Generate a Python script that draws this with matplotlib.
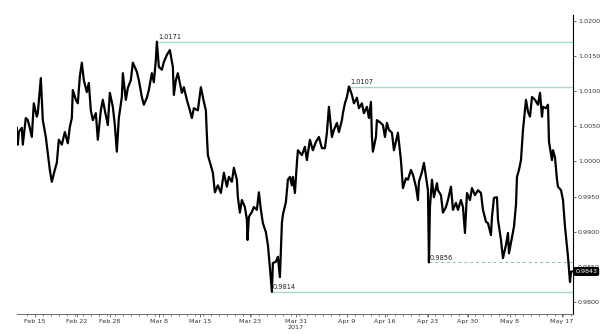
import matplotlib
matplotlib.use("Agg")
import matplotlib.pyplot as plt
import numpy as np

# hourly bar index from Feb 13 2017 (trading sessions only)
hours = [0, 3, 6, 15, 18, 27, 33, 39, 45, 51, 60, 63, 72, 78, 87, 93, 99, 105, 114, 120,
         126, 135, 144, 153, 159, 165, 168, 177, 183, 189, 195, 201, 210, 216, 222, 228, 237, 243, 252, 258,
         264, 273, 279, 288, 294, 300, 306, 315, 318, 327, 333, 342, 348, 360, 366, 375, 381, 390, 396, 405,
         411, 417, 420, 426, 435, 441, 450, 459, 468, 471, 477, 483, 495, 501, 510, 519, 525, 531, 543, 552,
         561, 567, 570, 573, 579, 588, 594, 603, 612, 621, 630, 636, 645, 651, 660, 663, 669, 675, 684, 690,
         692, 696, 705, 711, 720, 726, 732, 738, 747, 753, 759, 765, 768, 777, 783, 789, 795, 798, 807, 813,
         819, 825, 828, 834, 840, 843, 855, 864, 870, 879, 888, 897, 906, 915, 924, 930, 936, 945, 951, 960,
         966, 975, 978, 984, 990, 996, 1005, 1011, 1020, 1026, 1035, 1041, 1050, 1056, 1062, 1065, 1068, 1077, 1080, 1089,
         1098, 1104, 1110, 1116, 1125, 1131, 1140, 1143, 1152, 1158, 1167, 1173, 1182, 1188, 1197, 1203, 1206, 1215, 1221, 1227,
         1233, 1236, 1239, 1245, 1251, 1260, 1263, 1272, 1278, 1287, 1293, 1302, 1308, 1317, 1323, 1332, 1338, 1344, 1350, 1359,
         1365, 1374, 1383, 1392, 1398, 1407, 1413, 1422, 1425, 1431, 1440, 1443, 1452, 1458, 1467, 1473, 1476, 1485, 1491, 1497,
         1500, 1506, 1512, 1518, 1527, 1533, 1539, 1545, 1554, 1563, 1569, 1575, 1578, 1587, 1593, 1596, 1605, 1608, 1614, 1620,
         1623, 1632, 1638, 1644, 1653, 1659, 1662, 1665]

price = [1.0048, 1.0024, 1.0042, 1.0048, 1.0024, 1.0062, 1.0059, 1.0048, 1.0035, 1.0083, 1.0064, 1.0069, 1.0119, 1.0059, 1.0035, 1.0012, 0.9988, 0.9971, 0.9988, 0.9998,
         1.0031, 1.0024, 1.0042, 1.0026, 1.0049, 1.0062, 1.0102, 1.0088, 1.0083, 1.0121, 1.0141, 1.0116, 1.0099, 1.0112, 1.0073, 1.0059, 1.0069, 1.0031, 1.0073, 1.0088,
         1.0073, 1.0052, 1.0098, 1.0078, 1.0052, 1.0014, 1.0062, 1.0092, 1.0126, 1.0088, 1.0105, 1.0116, 1.0141, 1.0128, 1.0116, 1.0092, 1.0081, 1.0091, 1.0102, 1.0126,
         1.0113, 1.0145, 1.0171, 1.0135, 1.0131, 1.0142, 1.0152, 1.0159, 1.0135, 1.0095, 1.0116, 1.0126, 1.0098, 1.0106, 1.0088, 1.0073, 1.0062, 1.0076, 1.0073, 1.0106,
         1.0085, 1.0073, 1.0038, 1.0009, 0.9999, 0.9984, 0.9956, 0.9966, 0.9955, 0.9984, 0.9964, 0.9978, 0.9971, 0.9991, 0.9974, 0.9949, 0.9927, 0.9945, 0.9935, 0.9917,
         0.9888, 0.9921, 0.9928, 0.9935, 0.9931, 0.9956, 0.9931, 0.9912, 0.9899, 0.9881, 0.9849, 0.9814, 0.9855, 0.9857, 0.9864, 0.9835, 0.9912, 0.9924, 0.9942, 0.9974,
         0.9978, 0.9966, 0.9978, 0.9955, 0.9998, 1.0016, 1.0009, 1.0021, 1.0002, 1.0031, 1.0016, 1.0028, 1.0035, 1.0019, 1.0019, 1.0041, 1.0078, 1.0035, 1.0045, 1.0055,
         1.0042, 1.0059, 1.0069, 1.0083, 1.0092, 1.0107, 1.0095, 1.0083, 1.0091, 1.0076, 1.0083, 1.0069, 1.0078, 1.0062, 1.0085, 1.0035, 1.0014, 1.0035, 1.0059, 1.0056,
         1.0052, 1.0035, 1.0055, 1.0045, 1.0041, 1.0016, 1.0035, 1.0041, 1.0002, 0.9962, 0.9976, 0.9974, 0.9988, 0.9981, 0.9964, 0.9945, 0.9971, 0.9985, 0.9998, 0.9978,
         0.9959, 0.9856, 0.9935, 0.9974, 0.9949, 0.9969, 0.9959, 0.9952, 0.9927, 0.9935, 0.9945, 0.9964, 0.9931, 0.9941, 0.9931, 0.9945, 0.9935, 0.9898, 0.9955, 0.9945,
         0.9962, 0.9952, 0.9959, 0.9955, 0.9931, 0.9914, 0.9912, 0.9895, 0.9921, 0.9948, 0.9949, 0.9917, 0.9888, 0.9862, 0.9881, 0.9898, 0.9869, 0.9892, 0.9907, 0.9938,
         0.9978, 0.9988, 1.0002, 1.0045, 1.0088, 1.0071, 1.0064, 1.0092, 1.0088, 1.0081, 1.0098, 1.0064, 1.0078, 1.0076, 1.0081, 1.0028, 1.0002, 1.0016, 1.0006, 0.9974,
         0.9964, 0.9959, 0.9945, 0.9907, 0.9864, 0.9828, 0.9842, 0.9843]

tick_pos = [54, 180, 279, 426, 549, 699, 837, 990, 1104, 1233, 1353, 1479, 1635]
tick_labels = ["Feb 15", "Feb 22", "Feb 28", "Mar 8", "Mar 15", "Mar 23", "Mar 31\n2017",
               "Apr 9", "Apr 16", "Apr 23", "Apr 30", "May 8", "May 17"]

# marked levels: (start bar, level, dashed)
levels = [(420, 1.0171, False), (996, 1.0107, False), (765, 0.9814, False), (1236, 0.9856, True)]
last_price = 0.9843

fig = plt.figure(figsize=(6, 3.34), dpi=100)
ax = fig.add_axes([0.028, 0.06, 0.927, 0.895])

for start, lvl, dashed in levels:
    if dashed:
        ax.plot([start, 1668], [lvl, lvl], color="#7fbfae", lw=0.7, ls=(0, (3, 3)), zorder=1)
    else:
        ax.plot([start, 1668], [lvl, lvl], color="#a6dcc4", lw=1.0, zorder=1)
    ax.text(start + 3, lvl + 0.0002, f"{lvl:.4f}", fontsize=4.8, color="#222222",
            ha="left", va="bottom")

ax.plot(hours, price, color="black", lw=1.6, zorder=3)

ax.set_xlim(0, 1668)
ax.set_ylim(0.97824, 1.0209)

ax.spines["top"].set_visible(False)
ax.spines["left"].set_visible(False)
ax.spines["right"].set_linewidth(0.8)
ax.spines["bottom"].set_linewidth(0.6)
ax.spines["bottom"].set_color("#555555")

ax.yaxis.tick_right()
ax.set_yticks(np.arange(0.98, 1.0201, 0.005))
ax.set_yticklabels([f"{v:.4f}" for v in np.arange(0.98, 1.0201, 0.005)])
ax.tick_params(axis="y", labelsize=4.6, length=2, width=0.5, pad=1.5, colors="#333333")

ax.set_xticks(tick_pos)
ax.set_xticklabels(tick_labels)
ax.set_xticks(np.arange(30, 1668, 24), minor=True)
ax.tick_params(axis="x", which="major", labelsize=4.6, length=2, width=0.5, pad=1.5, colors="#333333")
ax.tick_params(axis="x", which="minor", length=1.5, width=0.5, colors="#555555")

ax.text(1.004, last_price, f"{last_price:.4f}", transform=ax.get_yaxis_transform(),
        fontsize=4.6, color="white", ha="left", va="center",
        bbox=dict(boxstyle="round,pad=0.2", fc="black", ec="black"))

fig.savefig("out.png", dpi=100)
